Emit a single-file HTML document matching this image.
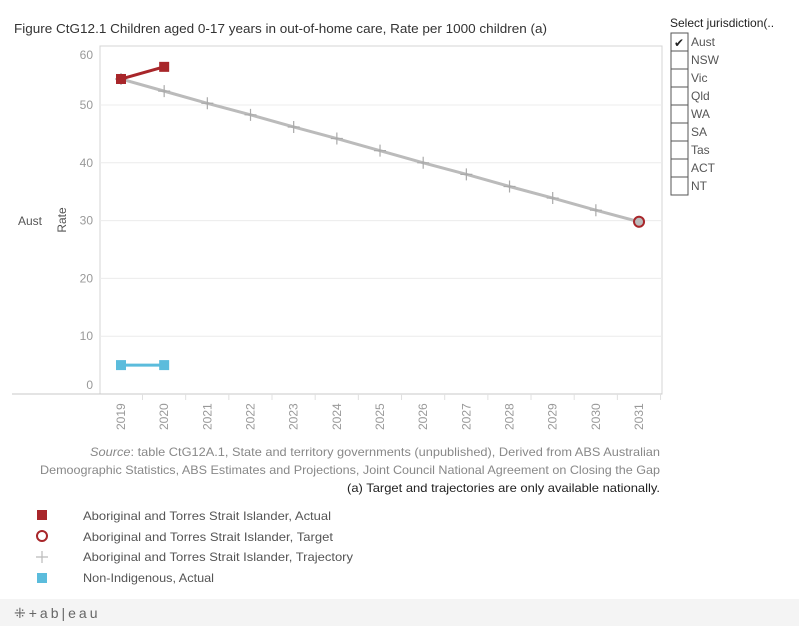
<!DOCTYPE html>
<html><head><meta charset="utf-8"><style>
body{margin:0;width:799px;height:626px;background:#fff;font-family:"Liberation Sans",sans-serif;overflow:hidden;position:relative}
svg{position:absolute;left:0;top:0}
</style></head><body>
<svg id="c" width="799" height="626">
<text x="14" y="33" font-size="13" fill="#333" textLength="533" lengthAdjust="spacingAndGlyphs">Figure CtG12.1 Children aged 0-17 years in out-of-home care, Rate per 1000 children (a)</text>
<rect x="100" y="46" width="562" height="348" fill="none" stroke="#d4d4d4"/>
<line x1="12" y1="394" x2="662" y2="394" stroke="#c8c8c8"/>
<g id="grid"></g><g id="yt"></g><g id="xt"></g><g id="marks"></g>
<text x="18" y="225" font-size="12" fill="#555">Aust</text>
<text transform="translate(66,220) rotate(-90)" text-anchor="middle" font-size="12" fill="#555">Rate</text>
<g font-size="12" fill="#888">
<text x="90" y="456" textLength="570" lengthAdjust="spacingAndGlyphs"><tspan font-style="italic">Source</tspan>: table CtG12A.1, State and territory governments (unpublished), Derived from ABS Australian</text>
<text x="40" y="474" textLength="620" lengthAdjust="spacingAndGlyphs">Demoographic Statistics, ABS Estimates and Projections, Joint Council National Agreement on Closing the Gap</text>
<text x="347" y="492" fill="#222" textLength="313" lengthAdjust="spacingAndGlyphs">(a) Target and trajectories are only available nationally.</text>
</g>
<g font-size="12" fill="#555">
<rect x="37" y="510" width="10" height="10" fill="#a8262a"/>
<text x="83" y="520" textLength="248" lengthAdjust="spacingAndGlyphs">Aboriginal and Torres Strait Islander, Actual</text>
<circle cx="42" cy="536" r="5" fill="none" stroke="#a8262a" stroke-width="2"/>
<text x="83" y="541" textLength="250" lengthAdjust="spacingAndGlyphs">Aboriginal and Torres Strait Islander, Target</text>
<path d="M36 557h12M42 551v12" stroke="#bbb" stroke-width="1.2"/>
<text x="83" y="561" textLength="270" lengthAdjust="spacingAndGlyphs">Aboriginal and Torres Strait Islander, Trajectory</text>
<rect x="37" y="573" width="10" height="10" fill="#5bbcdc"/>
<text x="83" y="582" textLength="131" lengthAdjust="spacingAndGlyphs">Non-Indigenous, Actual</text>
</g>
<rect x="0" y="599" width="799" height="27" fill="#f4f4f4"/>
<text x="14" y="618" font-size="14" fill="#666" letter-spacing="3">⁜+ab|eau</text>
<text x="670" y="27" font-size="12" fill="#222">Select jurisdiction(..</text>
<g id="filt"></g>
</svg>
<script>
const years=[2019,2020,2021,2022,2023,2024,2025,2026,2027,2028,2029,2030,2031];
const yTicks=[0,10,20,30,40,50,60];
const actualYears=[2019,2020];
const actualVals=[54.5,56.6];
const trajVals=[54.5,52.4,50.3,48.3,46.2,44.2,42.1,40.0,38.0,35.9,33.9,31.8,29.8];
const targetYear=[2031];
const targetVal=[29.8];
const nonIndYears=[2019,2020];
const nonIndVals=[5.0,5.0];
const juris=["Aust","NSW","Vic","Qld","WA","SA","Tas","ACT","NT"];
const NS="http://www.w3.org/2000/svg";
function X(y){return 121+(y-2019)*43.17;}
function Y(v){return 394-v*5.78;}
function el(t,a,p){const e=document.createElementNS(NS,t);for(const k in a)e.setAttribute(k,a[k]);document.getElementById(p).appendChild(e);return e;}
yTicks.forEach(t=>{
 if(t>0&&t<60){const g=el('line',{x1:100,x2:662,y1:Y(t),y2:Y(t),stroke:'#ececec'},'grid');
 
 }
 const tx=el('text',{x:93,y:t==0?389:(t==60?59:Y(t)+4),'font-size':12,fill:'#999','text-anchor':'end'},'yt');tx.textContent=t;
 
 
});
years.forEach(y=>{
 const tx=el('text',{transform:`translate(${X(y)+4},430) rotate(-90)`,'font-size':12,fill:'#999'},'xt');tx.textContent=y;
 
 
 const tk=el('line',{x1:X(y)+21.5,x2:X(y)+21.5,y1:394,y2:400,stroke:'#e0e0e0'},'xt');
 
 
});
let tl=el('polyline',{points:years.map((y,i)=>X(y)+','+Y(trajVals[i])).join(' '),fill:'none',stroke:'#bbb','stroke-width':3},'marks');


years.forEach((y,i)=>{const p=el('path',{d:`M${X(y)-6} ${Y(trajVals[i])}h12M${X(y)} ${Y(trajVals[i])-6}v12`,stroke:'#aaa','stroke-width':1.2},'marks');
 
 });
let al=el('polyline',{points:actualYears.map((y,i)=>X(y)+','+Y(actualVals[i])).join(' '),fill:'none',stroke:'#a8262a','stroke-width':3},'marks');


actualYears.forEach((y,i)=>{const r=el('rect',{x:X(y)-5,y:Y(actualVals[i])-5,width:10,height:10,fill:'#a8262a'},'marks');
 
 });
let nl=el('polyline',{points:nonIndYears.map((y,i)=>X(y)+','+Y(nonIndVals[i])).join(' '),fill:'none',stroke:'#5bbcdc','stroke-width':3},'marks');


nonIndYears.forEach((y,i)=>{const r=el('rect',{x:X(y)-5,y:Y(nonIndVals[i])-5,width:10,height:10,fill:'#5bbcdc'},'marks');
 
 });
targetYear.forEach((y,i)=>{const c=el('circle',{cx:X(y),cy:Y(targetVal[i]),r:5,fill:'#bbb',stroke:'#a8262a','stroke-width':2},'marks');
 
 });
juris.forEach((j,i)=>{const y0=33+i*18;
 const b=el('rect',{x:671,y:y0,width:17,height:18,fill:'#fff',stroke:'#555','stroke-width':1},'filt');
 
 
 if(i==0){const c=el('text',{x:674,y:y0+14,'font-size':12,fill:'#222'},'filt');c.textContent='✔';
 
 }
 const t=el('text',{x:691,y:y0+13,'font-size':12,fill:'#555'},'filt');t.textContent=j;
 
 
});
</script>
</body></html>
